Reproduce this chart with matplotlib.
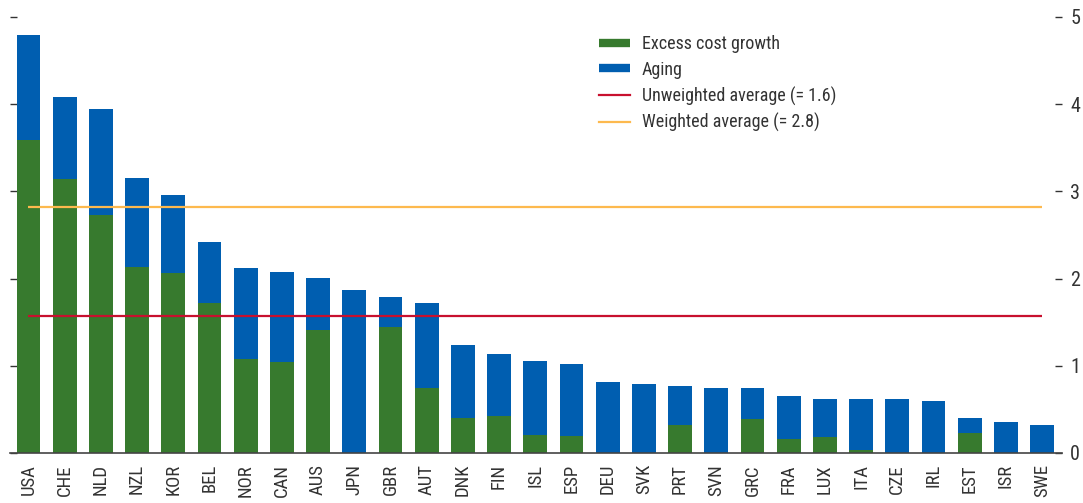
import matplotlib
matplotlib.use("Agg")
import matplotlib.pyplot as plt
from matplotlib.lines import Line2D
import numpy as np

countries = ["USA", "CHE", "NLD", "NZL", "KOR", "BEL", "NOR", "CAN", "AUS", "JPN",
             "GBR", "AUT", "DNK", "FIN", "ISL", "ESP", "DEU", "SVK", "PRT", "SVN",
             "GRC", "FRA", "LUX", "ITA", "CZE", "IRL", "EST", "ISR", "SWE"]
totals = [4.79, 4.08, 3.94, 3.15, 2.96, 2.42, 2.12, 2.07, 2.01, 1.87,
          1.79, 1.72, 1.235, 1.14, 1.06, 1.02, 0.81, 0.79, 0.77, 0.75,
          0.745, 0.65, 0.62, 0.62, 0.62, 0.60, 0.405, 0.35, 0.325]
excess = [3.59, 3.14, 2.73, 2.13, 2.06, 1.72, 1.08, 1.04, 1.41, 0.0,
          1.44, 0.75, 0.40, 0.42, 0.21, 0.20, 0.0, 0.0, 0.325, 0.0,
          0.385, 0.157, 0.18, 0.03, 0.0, 0.0, 0.225, 0.0, 0.0]
aging = [t - e for t, e in zip(totals, excess)]
unweighted_avg = 1.57
weighted_avg = 2.82
y_ticks = [0, 1, 2, 3, 4, 5]

GREEN = "#377A2E"
BLUE = "#005EB0"
RED = "#C8102E"
YELLOW = "#FDB94E"
TXT = "#333333"

plt.rcParams['font.family'] = ['Roboto Condensed', 'DejaVu Sans']

fig = plt.figure(figsize=(10.83, 5.03), dpi=100)
ax = fig.add_axes([10 / 1083, 1 - 453 / 503, (1062 - 10) / 1083, (453 - 17) / 503])

x = np.arange(len(countries))
w = 0.66
ax.bar(x, excess, width=w, color=GREEN, zorder=2)
ax.bar(x, aging, width=w, bottom=excess, color=BLUE, zorder=2)
ax.hlines(unweighted_avg, x[0], x[-1], color=RED, lw=1.6, zorder=3)
ax.hlines(weighted_avg, x[0], x[-1], color=YELLOW, lw=1.6, zorder=3)

n = len(countries)
ax.set_xlim(-0.51, n - 1 + 0.55)
ax.set_ylim(0, 5)
ax.set_xticks(x)
ax.set_xticklabels(countries, rotation=90, fontsize=13.5, color=TXT)
ax.tick_params(axis='x', length=0, pad=8)
ax.set_yticks(y_ticks)
ax.set_yticklabels([str(v) for v in y_ticks], fontsize=14.5, color=TXT)
ax.tick_params(axis='y', direction='in', length=5, width=1.0, color=TXT,
               left=True, right=True, labelleft=False, labelright=True, pad=6)
for s in ['left', 'right', 'top']:
    ax.spines[s].set_visible(False)
ax.spines['bottom'].set_color('#444444')
ax.spines['bottom'].set_linewidth(1.2)

handles = [
    Line2D([0], [0], color=GREEN, lw=6, solid_capstyle='butt'),
    Line2D([0], [0], color=BLUE, lw=6, solid_capstyle='butt'),
    Line2D([0], [0], color=RED, lw=1.6),
    Line2D([0], [0], color=YELLOW, lw=1.6),
]
labels = ["Excess cost growth", "Aging", "Unweighted average (= 1.6)",
          "Weighted average (= 2.8)"]
leg = fig.legend(handles, labels, loc='upper left',
                 bbox_to_anchor=(592 / 1083, 1 - 28 / 503), frameon=False,
                 fontsize=13, handlelength=1.7, handletextpad=0.65,
                 labelspacing=0.42, borderaxespad=0)
for t in leg.get_texts():
    t.set_color(TXT)

fig.savefig("out.png", dpi=100)
